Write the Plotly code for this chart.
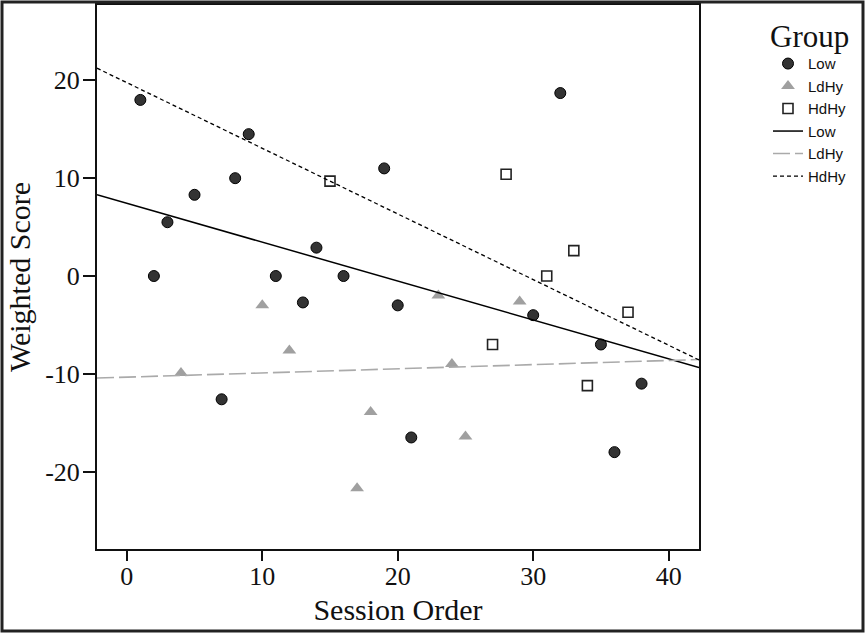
import numpy as np
import plotly.graph_objects as go

# ---- data ----
low_x = [1, 2, 3, 5, 7, 8, 9, 11, 13, 14, 16, 19, 20, 21, 30, 32, 35, 36, 38]
low_y = [18, 0, 5.5, 8.3, -12.6, 10, 14.5, 0, -2.7, 2.9, 0, 11, -3, -16.5, -4, 18.7, -7, -18, -11]
ldhy_x = [4, 10, 12, 17, 18, 23, 24, 25, 29]
ldhy_y = [-9.9, -3, -7.6, -21.7, -13.9, -2, -9, -16.4, -2.6]
hdhy_x = [15, 27, 28, 31, 33, 34, 37]
hdhy_y = [9.7, -7, 10.4, 0, 2.6, -11.2, -3.7]
x_ticks = [0, 10, 20, 30, 40]
x_tick_labels = ["0", "10", "20", "30", "40"]
y_ticks = [-20, -10, 0, 10, 20]
y_tick_labels = ["-20", "-10", "0", "10", "20"]
group_names = ["Low", "LdHy", "HdHy"]

X_RANGE = [-2.2, 42.24]
Y_RANGE = [-27.9, 27.7]

W, H = 866, 633
ML, MR, MT, MB = 97, 167, 5, 84
PW, PH = W - ML - MR, H - MT - MB

SERIF = "Liberation Serif, Times New Roman, serif"
SANS = "Liberation Sans, Arial, sans-serif"

fig = go.Figure()

fig.add_trace(go.Scatter(
    x=low_x, y=low_y, mode="markers", name=group_names[0],
    marker=dict(symbol="circle", size=11, color="#333333",
                line=dict(color="#000000", width=1))))
fig.add_trace(go.Scatter(
    x=ldhy_x, y=ldhy_y, mode="markers", name=group_names[1],
    marker=dict(symbol="triangle-up", size=12, color="#a0a0a0",
                line=dict(width=0))))
fig.add_trace(go.Scatter(
    x=hdhy_x, y=hdhy_y, mode="markers", name=group_names[2],
    marker=dict(symbol="square-open", size=10, color="#222222",
                line=dict(width=1.6))))

line_styles = [
    dict(color="#000000", width=1.5, dash="solid"),
    dict(color="#aaaaaa", width=1.6, dash="17px,5px"),
    dict(color="#000000", width=1.3, dash="4px,3px"),
]
xs = np.array(X_RANGE)
for (gx, gy), name, st in zip([(low_x, low_y), (ldhy_x, ldhy_y), (hdhy_x, hdhy_y)],
                              group_names, line_styles):
    slope, intercept = np.polyfit(gx, gy, 1)
    fig.add_trace(go.Scatter(x=xs, y=slope * xs + intercept, mode="lines",
                             name=name, line=st))

# outer frame around the whole picture
fig.add_shape(type="rect", xref="paper", yref="paper",
              x0=(2 - ML) / PW, x1=(W - 3 - ML) / PW,
              y0=(H - MB - (H - 2)) / PH, y1=(H - MB - 2) / PH,
              line=dict(color="#222222", width=3), fillcolor="rgba(0,0,0,0)",
              layer="above")

axis_common = dict(showgrid=False, zeroline=False, showline=True, linecolor="#111111",
                   linewidth=2, mirror=True, ticks="outside", tickcolor="#111111",
                   tickwidth=2, tickfont=dict(family=SERIF, size=26, color="#111111"))

fig.update_xaxes(range=X_RANGE, tickvals=x_ticks, ticktext=x_tick_labels, ticklen=10,
                 ticklabelstandoff=-7,
                 title=dict(text="Session Order", font=dict(family=SERIF, size=30, color="#111111"),
                            standoff=9),
                 **axis_common)
fig.update_yaxes(range=Y_RANGE, tickvals=y_ticks, ticktext=y_tick_labels, ticklen=12,
                 ticklabelstandoff=-2,
                 title=dict(text="Weighted Score", font=dict(family=SERIF, size=30, color="#111111"),
                            standoff=6),
                 **axis_common)

fig.update_layout(
    width=W, height=H,
    margin=dict(l=ML, r=MR, t=MT, b=MB, pad=0, autoexpand=False),
    plot_bgcolor="white", paper_bgcolor="white",
    showlegend=True,
    legend=dict(x=(768 - ML) / PW, y=(H - MB - 7) / PH, xanchor="left", yanchor="top",
                xref="paper", yref="paper",
                title=dict(text="Group", font=dict(family=SERIF, size=31, color="#111111"),
                           side="top"),
                font=dict(family=SANS, size=15, color="#111111"),
                tracegroupgap=0, itemwidth=30, bgcolor="rgba(0,0,0,0)"),
)

fig.write_html("out.html", config={"displayModeBar": False},
               post_script="document.body.style.margin='0';document.body.style.padding='0';")
